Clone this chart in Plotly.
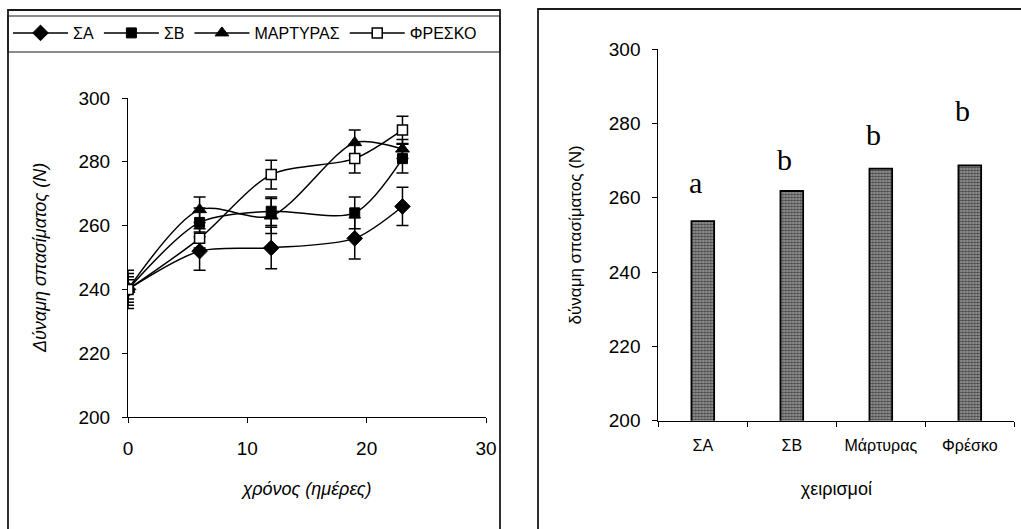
import plotly.graph_objects as go

# --- time course of breaking force ---
days = [0, 6, 12, 19, 23]
series_names = ["ΣΑ", "ΣΒ", "ΜΑΡΤΥΡΑΣ", "ΦΡΕΣΚΟ"]
force_sa = [240, 252, 253, 256, 266]
force_sb = [240, 261, 264.5, 264, 281]
force_martyras = [240, 265, 263, 286, 284]
force_fresko = [240, 256, 276, 281, 290]
err_sa = [6, 6, 6.5, 6.5, 6]
err_sb = [5, 4.5, 4.5, 5, 4.5]
err_martyras = [4, 4, 5.5, 4, 3]
err_fresko = [3, 3, 4.5, 4.5, 4.3]

# --- mean breaking force per treatment ---
treatments = ["ΣΑ", "ΣΒ", "Μάρτυρας", "Φρέσκο"]
mean_force = [253.7, 261.8, 267.8, 268.7]
group_letters = ["a", "b", "b", "b"]
letter_lift = [7, 5.2, 5.8, 11.3]

W, H = 1021, 529
SANS = "Arial, Liberation Sans, sans-serif"
SERIF = "Times New Roman, Liberation Serif, serif"


def px_x(p):
    return p / W


def px_y(p):
    return 1 - p / H


fig = go.Figure()

styles = [
    dict(symbol="diamond", size=12, color="black", line=dict(color="black", width=1)),
    dict(symbol="square", size=10, color="black", line=dict(color="black", width=1)),
    dict(symbol="triangle-up", size=12, color="black", line=dict(color="black", width=1)),
    dict(symbol="square", size=10, color="white", line=dict(color="black", width=1.5)),
]
values = [force_sa, force_sb, force_martyras, force_fresko]
errors = [err_sa, err_sb, err_martyras, err_fresko]

for name, y, e, m in zip(series_names, values, errors, styles):
    fig.add_trace(go.Scatter(
        x=days, y=y, name=name, mode="lines+markers",
        line=dict(color="black", width=1.5, shape="spline", smoothing=0.8),
        marker=m,
        error_y=dict(type="data", array=e, visible=True, color="black",
                     thickness=1.5, width=6),
        xaxis="x", yaxis="y",
    ))

fig.add_trace(go.Bar(
    x=treatments, y=mean_force, width=0.255, showlegend=False,
    marker=dict(
        color="#808080",
        line=dict(color="black", width=1.8),
        pattern=dict(shape=".", size=3, solidity=0.6,
                     fgcolor="#4a4a4a", bgcolor="#a8a8a8", fillmode="replace"),
    ),
    xaxis="x2", yaxis="y2",
))

for cat, val, lab, lift in zip(treatments, mean_force, group_letters, letter_lift):
    fig.add_annotation(
        x=cat, y=val + lift, xref="x2", yref="y2", text=lab, showarrow=False,
        xshift=-7, yanchor="bottom", yshift=-6,
        font=dict(family=SERIF, size=30, color="black"),
    )

axis_common = dict(
    showline=True, linecolor="black", linewidth=1, ticks="outside",
    ticklen=5, tickcolor="black", tickwidth=1, showgrid=False, zeroline=False,
    mirror=False, automargin=False,
)

fig.update_layout(
    width=W, height=H, margin=dict(l=0, r=0, t=0, b=0, autoexpand=False),
    paper_bgcolor="white", plot_bgcolor="white",
    font=dict(family=SANS, color="black"),
    xaxis=dict(
        **axis_common, domain=[px_x(128), px_x(486)], range=[0, 30], dtick=10,
        tickfont=dict(size=19), ticklabelstandoff=9,
        title=dict(text="<i>χρόνος (ημέρες)</i>", font=dict(size=18), standoff=24),
        anchor="y",
    ),
    yaxis=dict(
        **axis_common, domain=[px_y(417), px_y(98)], range=[200, 300], dtick=20,
        tickfont=dict(size=19), ticklabelstandoff=8,
        title=dict(text="<i>Δύναμη σπασίματος (N)</i>", font=dict(size=18), standoff=27),
        anchor="x",
    ),
    xaxis2=dict(
        **axis_common, domain=[px_x(658.3), px_x(1014.3)], range=[-0.5, 3.5],
        type="category", tickson="boundaries",
        tickfont=dict(size=16), ticklabelstandoff=10,
        title=dict(text="χειρισμοί", font=dict(size=18), standoff=29),
        anchor="y2",
    ),
    yaxis2=dict(
        **axis_common, domain=[px_y(420.7), px_y(49)], range=[200, 300], dtick=20,
        tickfont=dict(size=19), ticklabelstandoff=8,
        title=dict(text="δύναμη σπασίματος (N)", font=dict(size=17), standoff=22),
        anchor="x2",
    ),
    legend=dict(
        orientation="h", x=px_x(8), xanchor="left", y=px_y(33), yanchor="middle",
        font=dict(size=16, family=SANS), bgcolor="rgba(0,0,0,0)",
        itemsizing="trace", itemwidth=55,
    ),
    showlegend=True,
)

# frames around each panel and the legend strip
frame = dict(color="#1a1a1a", width=1.8)
fig.add_shape(type="rect", xref="paper", yref="paper",
              x0=px_x(8), x1=px_x(500), y0=px_y(540), y1=px_y(10), line=frame)
fig.add_shape(type="rect", xref="paper", yref="paper",
              x0=px_x(8), x1=px_x(500), y0=px_y(52), y1=px_y(16),
              line=dict(color="#1a1a1a", width=1.2))
fig.add_shape(type="rect", xref="paper", yref="paper",
              x0=px_x(538), x1=px_x(1030), y0=px_y(540), y1=px_y(9), line=frame)

fig.write_html("out.html")
